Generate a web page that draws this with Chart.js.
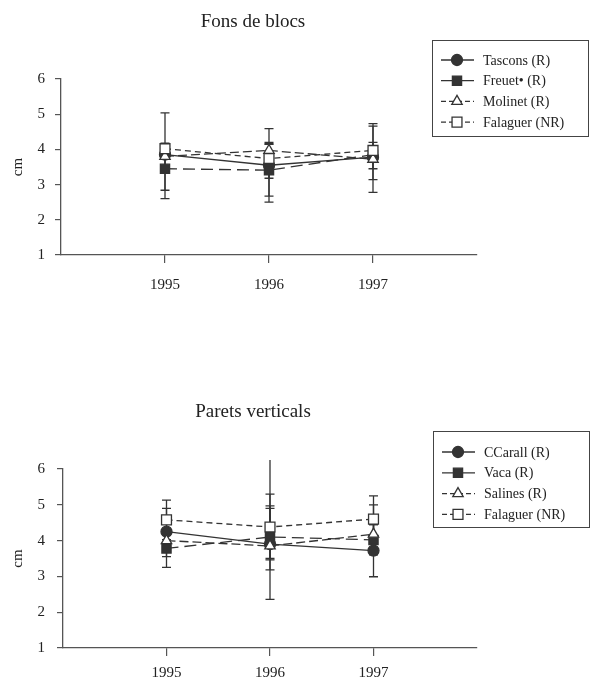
<!DOCTYPE html>
<html>
<head>
<meta charset="utf-8">
<script src="https://cdn.jsdelivr.net/npm/chart.js@4.4.1/dist/chart.umd.min.js"></script>
<style>
  html, body { margin: 0; padding: 0; background: #fff; }
  .panel { position: relative; width: 590px; height: 343px; }
</style>
</head>
<body>
<div class="panel"><canvas id="fons"></canvas></div>
<div class="panel"><canvas id="parets"></canvas></div>
<script>
// years on the x axis
const years = [1995, 1996, 1997];
const yTicks = [1, 2, 3, 4, 5, 6];

// Fons de blocs
const fonsLabels = ['Tascons (R)', 'Freuet\u2022 (R)', 'Molinet (R)', 'Falaguer (NR)'];
const fonsTascons = [3.85, 3.55, 3.78];
const fonsTasconsLo = [2.6, 2.5, 2.78];
const fonsTasconsHi = [5.04, 4.59, 4.73];
const fonsFreuet = [3.45, 3.41, 3.85];
const fonsFreuetLo = [2.84, 2.67, 3.14];
const fonsFreuetHi = [4.1, 4.16, 4.66];
const fonsMolinet = [3.8, 3.97, 3.72];
const fonsMolinetLo = [3.5, 3.18, 3.45];
const fonsMolinetHi = [4.1, 4.14, 4.05];
const fonsFalaguer = [4.02, 3.74, 3.97];
const fonsFalaguerLo = [3.86, 3.45, 3.75];
const fonsFalaguerHi = [4.18, 4.2, 4.2];

// Parets verticals
const paretsLabels = ['CCarall (R)', 'Vaca (R)', 'Salines (R)', 'Falaguer (NR)'];
const paretsCCarall = [4.25, 3.9, 3.72];
const paretsCCarallLo = [3.55, 2.36, 2.99];
const paretsCCarallHi = [4.9, 6.25, 4.45];
const paretsVaca = [3.78, 4.1, 4.02];
const paretsVacaLo = [3.25, 3.18, 3.6];
const paretsVacaHi = [4.3, 4.97, 4.45];
const paretsSalines = [4.0, 3.85, 4.18];
const paretsSalinesLo = [3.7, 3.5, 3.9];
const paretsSalinesHi = [4.3, 4.9, 5.0];
const paretsFalaguer = [4.58, 4.38, 4.6];
const paretsFalaguerLo = [4.03, 3.46, 3.95];
const paretsFalaguerHi = [5.13, 5.3, 5.25];

const ink = '#333';
const FONT = "'Liberation Serif', 'DejaVu Serif', serif";

// line + marker style per series position
const styles = [
  { pointStyle: 'circle', radius: 5.5, fill: ink, dash: [] },
  { pointStyle: 'rect', radius: 6.5, fill: ink, dash: [12, 6] },
  { pointStyle: 'triangle', radius: 6, fill: '#fff', dash: [9, 4] },
  { pointStyle: 'rect', radius: 7, fill: '#fff', dash: [6, 4] }
];

const errorBars = {
  id: 'errorBars',
  beforeDatasetsDraw(chart) {
    const ctx = chart.ctx;
    const y = chart.scales.y;
    const x = chart.scales.x;
    ctx.save();
    ctx.strokeStyle = ink;
    ctx.lineWidth = 1.3;
    chart.data.datasets.forEach(ds => {
      ds.data.forEach((p, i) => {
        const px = x.getPixelForValue(p.x);
        const top = y.getPixelForValue(ds.hi[i]);
        const bot = y.getPixelForValue(ds.lo[i]);
        ctx.beginPath();
        ctx.moveTo(px, top);
        ctx.lineTo(px, bot);
        if (ds.hi[i] <= y.max) { ctx.moveTo(px - 4.5, top); ctx.lineTo(px + 4.5, top); }
        ctx.moveTo(px - 4.5, bot); ctx.lineTo(px + 4.5, bot);
        ctx.stroke();
      });
    });
    ctx.restore();
  }
};

const boxLegend = {
  id: 'boxLegend',
  afterDraw(chart, args, opts) {
    const ctx = chart.ctx;
    ctx.save();
    ctx.strokeStyle = '#444';
    ctx.lineWidth = 1;
    ctx.strokeRect(opts.left + 0.5, opts.top + 0.5, opts.width, opts.height);
    chart.data.datasets.forEach((ds, i) => {
      const cy = opts.top + opts.first + i * opts.step;
      const st = styles[i];
      ctx.strokeStyle = ink;
      ctx.lineWidth = 1.3;
      ctx.setLineDash(i < 2 ? [] : [5, 3]);
      ctx.beginPath();
      ctx.moveTo(opts.left + 9, cy);
      ctx.lineTo(opts.left + 42, cy);
      ctx.stroke();
      ctx.setLineDash([]);
      ctx.fillStyle = st.fill;
      Chart.helpers.drawPoint(ctx, { pointStyle: st.pointStyle, radius: st.radius, rotation: 0, borderWidth: 1.3 }, opts.left + 25, cy);
      ctx.fillStyle = '#222';
      ctx.font = '14px ' + FONT;
      ctx.textBaseline = 'middle';
      ctx.fillText(ds.label, opts.left + 51, cy + 1);
    });
    ctx.restore();
  }
};

const titleText = {
  id: 'titleText',
  afterDraw(chart, args, opts) {
    const ctx = chart.ctx;
    ctx.save();
    ctx.fillStyle = '#222';
    ctx.font = '19px ' + FONT;
    ctx.textAlign = 'center';
    ctx.textBaseline = 'alphabetic';
    ctx.fillText(opts.text, opts.x, opts.y);
    ctx.restore();
  }
};

function makeChart(id, title, labels, series, lows, highs, g) {
  const datasets = series.map((vals, i) => ({
    label: labels[i],
    data: years.map((yr, k) => ({ x: yr, y: vals[k] })),
    lo: lows[i],
    hi: highs[i],
    borderColor: ink,
    borderWidth: 1.3,
    borderDash: styles[i].dash,
    pointStyle: styles[i].pointStyle,
    pointRadius: styles[i].radius,
    pointBackgroundColor: styles[i].fill,
    pointBorderColor: ink,
    pointBorderWidth: 1.3,
    fill: false,
    tension: 0
  }));
  // draw open markers on top of filled ones
  datasets.forEach((d, i) => { d.order = -i; });

  return new Chart(document.getElementById(id), {
    type: 'line',
    data: { datasets: datasets },
    options: {
      responsive: true,
      maintainAspectRatio: false,
      animation: false,
      layout: { padding: { left: 0, right: 590 - g.right, top: g.top, bottom: 0 } },
      scales: {
        x: {
          type: 'linear',
          min: 1994,
          max: 1998,
          afterBuildTicks: s => { s.ticks = years.map(v => ({ value: v })); },
          afterFit: s => { s.height = g.xh; },
          ticks: { color: '#222', font: { family: FONT, size: 15 }, padding: g.xpad, callback: v => String(v) },
          grid: { drawOnChartArea: false, drawTicks: true, tickLength: 8, color: '#555', lineWidth: 1.2 },
          border: { color: '#555', width: 1.3 }
        },
        y: {
          min: 1,
          max: 6,
          afterBuildTicks: s => { s.ticks = yTicks.map(v => ({ value: v })); },
          afterFit: s => { s.width = g.left; },
          ticks: { color: '#222', font: { family: FONT, size: 15 }, padding: g.ypad },
          title: { display: true, text: 'cm', color: '#222', font: { family: FONT, size: 15 }, padding: { top: 9 } },
          grid: { drawOnChartArea: false, drawTicks: true, tickLength: 6, color: '#555', lineWidth: 1.2 },
          border: { color: '#555', width: 1.3 }
        }
      },
      plugins: {
        legend: { display: false },
        tooltip: { enabled: false },
        titleText: { text: title, x: 253, y: g.titleY },
        boxLegend: g.legend
      }
    },
    plugins: [errorBars, boxLegend, titleText]
  });
}

makeChart('fons', 'Fons de blocs', fonsLabels,
  [fonsTascons, fonsFreuet, fonsMolinet, fonsFalaguer],
  [fonsTasconsLo, fonsFreuetLo, fonsMolinetLo, fonsFalaguerLo],
  [fonsTasconsHi, fonsFreuetHi, fonsMolinetHi, fonsFalaguerHi],
  { left: 61, right: 477, top: 79, xh: 88, xpad: 13, ypad: 10, titleY: 27,
    legend: { left: 432, top: 40, width: 156, height: 96, first: 20, step: 20.7 } });

makeChart('parets', 'Parets verticals', paretsLabels,
  [paretsCCarall, paretsVaca, paretsSalines, paretsFalaguer],
  [paretsCCarallLo, paretsVacaLo, paretsSalinesLo, paretsFalaguerLo],
  [paretsCCarallHi, paretsVacaHi, paretsSalinesHi, paretsFalaguerHi],
  { left: 63, right: 477, top: 126, xh: 38, xpad: 8, ypad: 12, titleY: 74,
    legend: { left: 433, top: 88, width: 156, height: 96, first: 21, step: 20.8 } });
</script>
</body>
</html>
